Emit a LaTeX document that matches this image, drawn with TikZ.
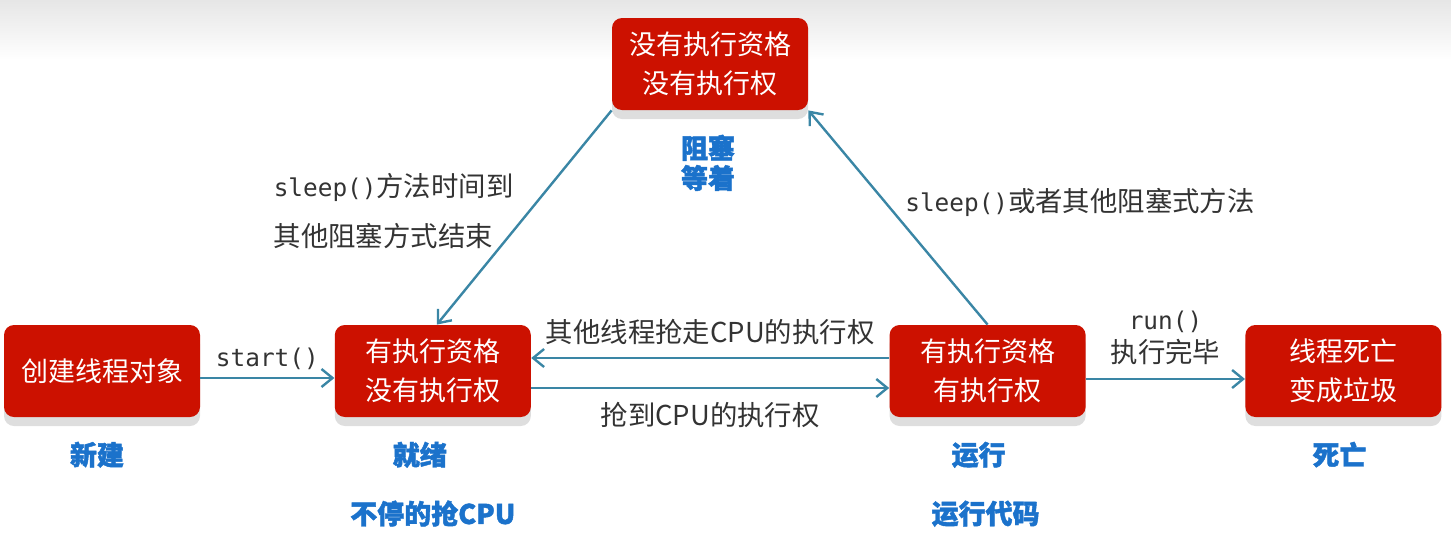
\documentclass[tikz,border=0pt]{standalone}
\usepackage{fontspec}
\usetikzlibrary{arrows.meta,positioning,shadows}
\newfontfamily\cjk{Noto Sans CJK SC}
\newfontfamily\cjkheavy{Noto Sans CJK SC}[BoldFeatures={FakeBold=1.6}]
\newfontfamily\codefont{DejaVu Sans Mono}
\newcommand\callname[1]{{\codefont\fontsize{12.2}{16.5}\selectfont #1}}
\definecolor{StateRed}{HTML}{CC1100}
\definecolor{ArrowTeal}{HTML}{3A86A5}
\definecolor{TagBlue}{HTML}{1B72CB}
\definecolor{NoteGray}{HTML}{333333}
\definecolor{FadeTop}{HTML}{E6E6E6}

\begin{document}
\begin{tikzpicture}[
    state/.style={
      rounded corners=5pt,
      fill=StateRed,
      text=white,
      minimum width=98pt,
      minimum height=46pt,
      inner sep=0pt,
      align=center,
      font=\cjk\fontsize{13.5}{19.5}\selectfont,
      drop shadow={shadow xshift=0pt, shadow yshift=-4.5pt, fill=black!13, opacity=1}
    },
    tag/.style={inner sep=0pt, align=center, text=TagBlue,
      font=\cjkheavy\bfseries\fontsize{13.5}{15}\selectfont},
    note/.style={text=NoteGray, font=\cjk\fontsize{13.7}{16.5}\selectfont},
    flow/.style={-{Straight Barb[length=5.5pt,width=9pt]}, line width=1.2pt, ArrowTeal}
  ]
    \useasboundingbox (0,0) rectangle (725.5pt,-271pt);
    \shade[top color=FadeTop, bottom color=white] (0,0) rectangle (725.5pt,-30pt);

    % the five states
    \node[state] (new) at (51pt,-185.5pt) {创建线程对象};
    \node[state, right=67pt of new] (ready) {有执行资格\\没有执行权};
    \node[state, right=179pt of ready] (run) {有执行资格\\有执行权};
    \node[state, right=79.5pt of run] (dead) {线程死亡\\变成垃圾};
    \node[state] (block) at (355pt,-32pt) {没有执行资格\\没有执行权};

    % blue names under the states
    \node[tag, below=12pt of new, xshift=-2.5pt] (newtag) {新建};
    \node[tag, below=12pt of ready, xshift=-6.5pt] (readytag) {就绪};
    \node[tag, below=16pt of readytag, xshift=6.5pt] (readynote) {不停的抢CPU};
    \node[tag, below=12pt of run, xshift=-4.5pt] (runtag) {运行};
    \node[tag, below=16pt of runtag, xshift=3.5pt] (runnote) {运行代码};
    \node[tag, below=12pt of dead, xshift=-2pt] (deadtag) {死亡};
    \node[tag, below=12pt of block, xshift=-1pt] (blocktag) {阻塞\\等着};

    \draw[flow] ([yshift=-3.5pt]new.east) -- node[above, note] {\callname{start()}} ([yshift=-3.5pt]ready.west);
    \draw[flow] ([yshift=6.5pt]run.west) -- node[above=2.5pt, note] {其他线程抢走CPU的执行权} ([yshift=6.5pt]ready.east);
    \draw[flow] ([yshift=-8.5pt]ready.east) -- node[below=3pt, note] {抢到CPU的执行权} ([yshift=-8.5pt]run.west);
    \draw[flow] ([yshift=-4pt]run.east) -- node[above=3pt, note, align=center] {\callname{run()}\\执行完毕} ([yshift=-4pt]dead.west);
    \draw[flow] (block.south west) -- node[pos=0.47, left=4pt, note, align=left] {\callname{sleep()}方法时间到\\[8.5pt]其他阻塞方式结束} ([xshift=2pt]ready.north);
    \draw[flow] (run.north) -- node[pos=0.57, right=6pt, note] {\callname{sleep()}或者其他阻塞式方法} (block.south east);
  \end{tikzpicture}
\end{document}
